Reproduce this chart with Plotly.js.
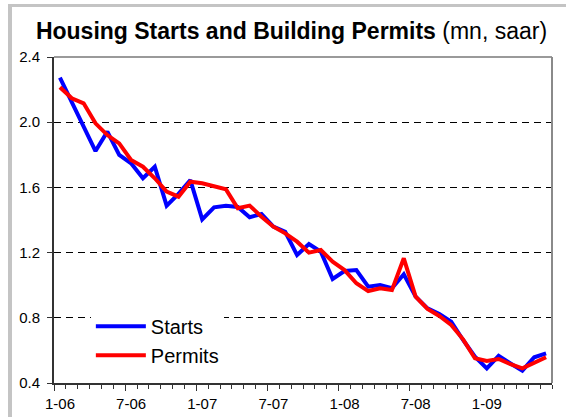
<!DOCTYPE html>
<html>
<head>
<meta charset="utf-8">
<script src="https://cdn.plot.ly/plotly-3.0.1.min.js"></script>
<style>
  html, body { margin: 0; padding: 0; background: #ffffff; }
  #wrap { position: relative; width: 566px; height: 417px; overflow: hidden; }
  #frame { position: absolute; left: 8px; top: 4px; width: 600px; height: 500px;
           border-left: 4px solid #c4c4c4; border-top: 3px solid #c4c4c4; }
  #chart { position: absolute; left: 0; top: 0; width: 566px; height: 417px; }
</style>
</head>
<body>
<div id="wrap"><div id="frame"></div><div id="chart"></div></div>
<script>
// Monthly data, Jan 2006 - Jun 2009 (millions, SAAR)
const months = ["1-06","2-06","3-06","4-06","5-06","6-06","7-06","8-06","9-06","10-06","11-06","12-06",
                "1-07","2-07","3-07","4-07","5-07","6-07","7-07","8-07","9-07","10-07","11-07","12-07",
                "1-08","2-08","3-08","4-08","5-08","6-08","7-08","8-08","9-08","10-08","11-08","12-08",
                "1-09","2-09","3-09","4-09","5-09","6-09"];
const starts = [2.273, 2.126, 1.975, 1.823, 1.942, 1.800, 1.748, 1.656, 1.727, 1.488, 1.560, 1.645,
                1.404, 1.478, 1.488, 1.480, 1.417, 1.437, 1.359, 1.328, 1.185, 1.253, 1.206, 1.038,
                1.087, 1.093, 0.991, 1.001, 0.981, 1.067, 0.930, 0.858, 0.823, 0.776, 0.664, 0.561,
                0.490, 0.566, 0.520, 0.476, 0.558, 0.582];
const permits = [2.214, 2.147, 2.116, 1.993, 1.921, 1.870, 1.768, 1.727, 1.656, 1.574, 1.543, 1.635,
                 1.625, 1.609, 1.588, 1.472, 1.488, 1.420, 1.359, 1.318, 1.267, 1.200, 1.216, 1.144,
                 1.093, 1.012, 0.964, 0.981, 0.970, 1.165, 0.930, 0.854, 0.811, 0.756, 0.668, 0.552,
                 0.535, 0.547, 0.515, 0.490, 0.521, 0.558];
const yTicks = [0.4, 0.8, 1.2, 1.6, 2.0, 2.4];
const yTickText = ["0.4", "0.8", "1.2", "1.6", "2.0", "2.4"];
const labelEvery = 6;

const idx = months.map((_, i) => i);
const xLabelVals = idx.filter(i => i % labelEvery === 0).map(i => i - 0.5);
const xLabelText = idx.filter(i => i % labelEvery === 0).map(i => months[i]);

const FONT = "Arial, 'Liberation Sans', sans-serif";

const traces = [
  { x: idx, y: starts, name: "Starts", type: "scatter", mode: "lines",
    line: { color: "#0000ff", width: 4 } },
  { x: idx, y: permits, name: "Permits", type: "scatter", mode: "lines",
    line: { color: "#ff0000", width: 4 } }
];

const layout = {
  width: 566, height: 417,
  margin: { l: 54, r: 14, t: 57, b: 34 },
  paper_bgcolor: "rgba(0,0,0,0)",
  plot_bgcolor: "#ffffff",
  font: { family: FONT, color: "#000000" },
  title: {
    text: "<b>Housing Starts and Building Permits</b> (mn, saar)",
    font: { family: FONT, size: 23, color: "#000000" },
    x: 0.515, xref: "container", xanchor: "center",
    y: 0.926, yref: "container", yanchor: "middle"
  },
  showlegend: true,
  legend: {
    x: 0.074, xanchor: "left", y: 0.234, yanchor: "top",
    bgcolor: "#ffffff", borderwidth: 0,
    font: { family: FONT, size: 20, color: "#000000" },
    itemwidth: 50, tracegroupgap: 0
  },
  xaxis: {
    range: [-0.5, months.length - 0.5],
    tickmode: "array", tickvals: xLabelVals, ticktext: xLabelText,
    ticks: "outside", ticklen: 6, tickwidth: 1, tickcolor: "#333333",
    ticklabelshift: 6,
    tickfont: { family: FONT, size: 15, color: "#000000" },
    showline: true, linecolor: "#333333", linewidth: 2,
    showgrid: false, zeroline: false,
    minor: { tickmode: "linear", tick0: -0.5, dtick: 1, ticks: "outside",
             ticklen: 4, tickwidth: 1, tickcolor: "#333333", showgrid: false }
  },
  yaxis: {
    range: [0.4, 2.4],
    tickmode: "array", tickvals: yTicks, ticktext: yTickText,
    ticks: "outside", ticklen: 5, tickwidth: 1, tickcolor: "#333333",
    ticklabelstandoff: 4,
    tickfont: { family: FONT, size: 15, color: "#000000" },
    showline: true, linecolor: "#333333", linewidth: 2,
    showgrid: true, gridcolor: "#000000", gridwidth: 1, griddash: "7px,5px",
    zeroline: false
  },
  shapes: [
    { type: "line", xref: "paper", yref: "paper", x0: 0, x1: 1, y0: 1, y1: 1,
      line: { color: "#9a9a9a", width: 2 } },
    { type: "line", xref: "paper", yref: "paper", x0: 1, x1: 1, y0: 0, y1: 1,
      line: { color: "#8a8a8a", width: 2 } }
  ]
};

Plotly.newPlot("chart", traces, layout, { staticPlot: true, displayModeBar: false });
</script>
</body>
</html>
